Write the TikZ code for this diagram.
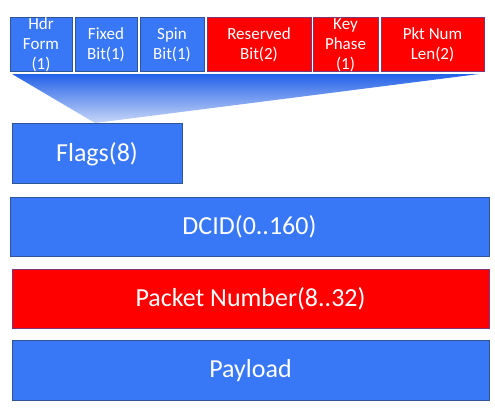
\documentclass[tikz,border=0pt]{standalone}
\usepackage{fontspec}
\setmainfont{Carlito}
\definecolor{bfill}{RGB}{56,119,246}
\definecolor{bline}{RGB}{47,85,151}
\definecolor{rfill}{RGB}{255,0,0}
\definecolor{rline}{RGB}{125,55,120}
\definecolor{tritop}{RGB}{36,98,232}
\definecolor{trimid}{RGB}{70,128,238}
\definecolor{tribot}{RGB}{200,215,248}
\begin{document}
\begin{tikzpicture}[x=1pt,y=-1pt,
  bbox/.style={draw=bline,fill=bfill,line width=1pt},
  rbox/.style={draw=rline,fill=rfill,line width=1pt},
  small/.style={text=white,font=\fontsize{17}{20}\selectfont,align=center,inner sep=0pt},
  big/.style={text=white,font=\fontsize{26}{30}\selectfont,inner sep=0pt}]
\useasboundingbox (0,0) rectangle (495,413);
% triangle
\shade[top color=tritop,middle color=trimid,bottom color=tribot] (12,74) -- (479,74) -- (95,123) -- cycle;
% top bit boxes
\draw[bbox] (10,17) rectangle (72,71);
\draw[bbox] (75,17) rectangle (137,71);
\draw[bbox] (140,17) rectangle (204,71);
\draw[rbox] (207,17) rectangle (311,71);
\draw[rbox] (313,17) rectangle (378,71);
\draw[rbox] (381,17) rectangle (484,71);
\node[small] (hdr) at (41,45) {Hdr\\Form\\(1)};
\node[small] (fix) at (106,45) {Fixed\\Bit(1)};
\node[small] (spin) at (172,45) {Spin\\Bit(1)};
\node[small] (res) at (259,45) {Reserved\\Bit(2)};
\node[small] (key) at (345.5,45) {Key\\Phase\\(1)};
\node[small] (pkl) at (432.5,45) {Pkt Num\\Len(2)};
% big boxes
\draw[bbox] (12,123) rectangle (182,183);
\node[big] (flags) at (97,154) {Flags(8)};
\draw[bbox] (10,197) rectangle (489,256);
\node[big] (dcid) at (249.5,227) {DCID(0..160)};
\draw[rbox] (12,269) rectangle (489,328);
\node[big] (pn) at (250.5,299) {Packet Number(8..32)};
\draw[bbox] (12,340) rectangle (489,400);
\node[big] (pay) at (250.5,371) {Payload};
\end{tikzpicture}
\end{document}
